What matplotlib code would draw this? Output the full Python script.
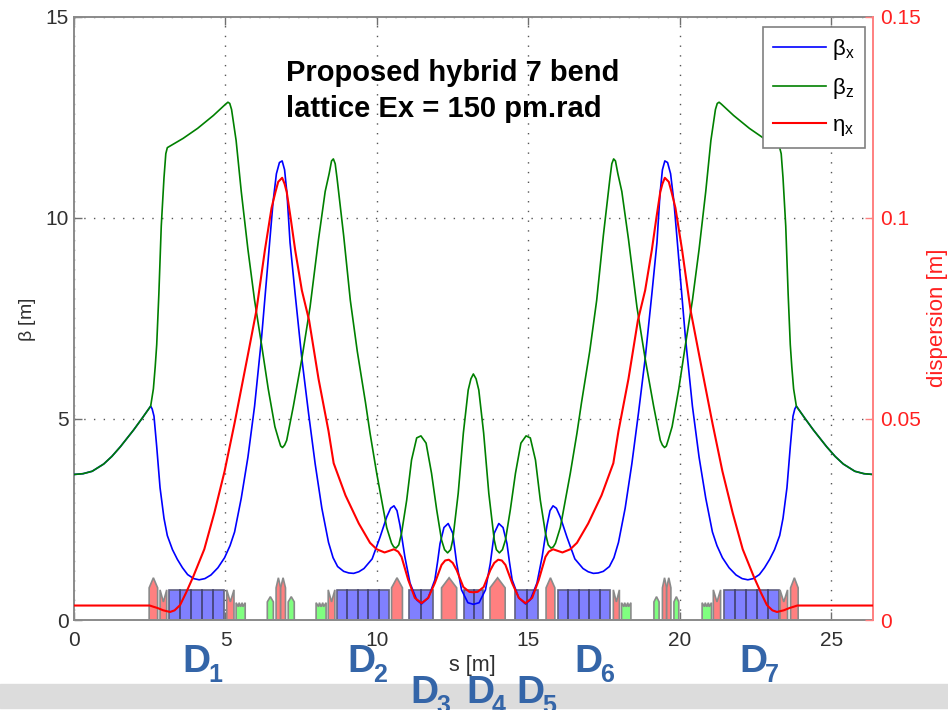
import matplotlib
matplotlib.use("Agg")
import matplotlib.pyplot as plt
from matplotlib.patches import Polygon, Rectangle

plt.rcParams['font.family'] = ['Liberation Sans', 'DejaVu Sans']
plt.rcParams['mathtext.fontset'] = 'custom'
plt.rcParams['mathtext.rm'] = 'Liberation Sans'
plt.rcParams['mathtext.it'] = 'Liberation Sans'

# beta x
s_bx = [0, 0.3, 0.6, 0.98, 1.25, 1.53, 1.97, 2.25, 2.53, 2.58, 2.64, 2.73, 2.84, 2.97, 3.08, 3.25, 3.41, 3.58, 3.75,
        3.95, 4.13, 4.32, 4.52, 4.75, 4.97, 5.15, 5.3, 5.52, 5.74, 5.96, 6.19, 6.41, 6.57, 6.68, 6.78, 6.87, 6.95, 7.03,
        7.13, 7.3, 7.52, 7.74, 7.96, 8.18, 8.4, 8.55, 8.7, 8.9, 9.07, 9.23, 9.4, 9.57, 9.84, 10.1, 10.32, 10.45, 10.56,
        10.66, 10.76, 10.92, 11.09, 11.31, 11.47, 11.69, 11.91, 12.0, 12.08, 12.21, 12.35, 12.5, 12.63, 12.79, 13.0, 13.18,
        13.37, 13.58, 13.74, 13.87, 14.02, 14.16, 14.29, 14.37, 14.46, 14.68, 14.9, 15.06, 15.28, 15.45, 15.61, 15.71,
        15.81, 15.92, 16.05, 16.27, 16.53, 16.8, 16.97, 17.14, 17.3, 17.47, 17.67, 17.82, 17.97, 18.19, 18.41, 18.63,
        18.85, 19.07, 19.24, 19.34, 19.42, 19.5, 19.59, 19.69, 19.8, 19.96, 20.18, 20.41, 20.63, 20.85, 21.07, 21.22,
        21.4, 21.62, 21.85, 22.05, 22.24, 22.42, 22.62, 22.79, 22.96, 23.12, 23.29, 23.4, 23.53, 23.64, 23.73, 23.79,
        23.84, 24.12, 24.4, 24.84, 25.12, 25.39, 25.77, 26.07, 26.37]
beta_x = [3.62, 3.64, 3.7, 3.88, 4.07, 4.31, 4.73, 5.02, 5.32, 5.25, 5.07, 4.31, 3.29, 2.53, 2.1, 1.75, 1.51, 1.3, 1.13,
          1.03, 1.0, 1.03, 1.12, 1.3, 1.55, 1.85, 2.19, 3.03, 4.05, 5.32, 7.02, 8.97, 10.4, 11.1, 11.38, 11.42, 11.2, 10.6,
          9.39, 8.1, 6.5, 5.15, 3.88, 2.78, 1.93, 1.55, 1.33, 1.21, 1.17, 1.16, 1.2, 1.28, 1.52, 2.06, 2.56, 2.78, 2.84,
          2.72, 2.35, 1.57, 0.92, 0.5, 0.4, 0.55, 1.0, 1.45, 1.9, 2.3, 2.4, 2.16, 1.41, 0.75, 0.43, 0.39,
          0.43, 0.75, 1.41, 2.16, 2.4, 2.3, 1.9, 1.45, 1.0, 0.55, 0.4, 0.5, 0.92, 1.57, 2.35, 2.72,
          2.84, 2.78, 2.56, 2.06, 1.52, 1.28, 1.2, 1.16, 1.17, 1.21, 1.33, 1.55, 1.93, 2.78, 3.88, 5.15,
          6.5, 8.1, 9.39, 10.6, 11.2, 11.42, 11.38, 11.1, 10.4, 8.97, 7.02, 5.32, 4.05, 3.03, 2.19, 1.85,
          1.55, 1.3, 1.12, 1.03, 1.0, 1.03, 1.13, 1.3, 1.51, 1.75, 2.1, 2.53, 3.29, 4.31, 5.07, 5.25,
          5.32, 5.02, 4.73, 4.31, 4.07, 3.88, 3.7, 3.64, 3.62]

# beta z
s_bz = [0, 0.3, 0.6, 0.98, 1.25, 1.53, 1.97, 2.25, 2.53, 2.62, 2.68, 2.73, 2.8, 2.88, 2.97, 3.03, 3.08, 3.6, 4.08, 4.6,
        5.0, 5.08, 5.14, 5.2, 5.35, 5.52, 5.74, 5.96, 6.19, 6.41, 6.63, 6.75, 6.82, 6.88, 6.95, 7.02, 7.24, 7.52, 7.79,
        8.07, 8.29, 8.42, 8.5, 8.56, 8.62, 8.68, 8.9, 9.12, 9.35, 9.62, 9.77, 9.99, 10.32, 10.48, 10.55, 10.63, 10.72,
        10.81, 10.98, 11.14, 11.31, 11.45, 11.62, 11.8, 11.97, 12.13, 12.23, 12.33, 12.43, 12.5, 12.68, 12.85, 13.01, 13.1,
        13.18, 13.27, 13.36, 13.52, 13.69, 13.87, 13.94, 14.04, 14.14, 14.24, 14.4, 14.57, 14.75, 14.92, 15.06, 15.23,
        15.39, 15.56, 15.65, 15.74, 15.82, 15.89, 16.05, 16.38, 16.6, 16.75, 17.02, 17.25, 17.47, 17.69, 17.75, 17.81,
        17.87, 17.95, 18.08, 18.3, 18.58, 18.85, 19.13, 19.35, 19.42, 19.49, 19.55, 19.62, 19.74, 19.96, 20.18, 20.41,
        20.63, 20.85, 21.02, 21.17, 21.23, 21.29, 21.37, 21.77, 22.29, 22.77, 23.29, 23.34, 23.4, 23.49, 23.57, 23.64,
        23.69, 23.75, 23.84, 24.12, 24.4, 24.84, 25.12, 25.39, 25.77, 26.07, 26.37]
beta_z = [3.62, 3.64, 3.7, 3.88, 4.07, 4.31, 4.73, 5.02, 5.32, 5.75, 6.3, 6.85, 8.1, 9.8, 11.0, 11.6, 11.75, 11.98, 12.23,
          12.55, 12.83, 12.88, 12.85, 12.7, 11.93, 10.66, 9.22, 7.95, 6.85, 5.75, 4.81, 4.5, 4.33, 4.29, 4.35, 4.47, 5.32,
          6.5, 7.78, 9.47, 10.66, 11.1, 11.42, 11.47, 11.35, 11.0, 9.56, 7.95, 6.68, 5.41, 4.65, 3.65, 2.3, 1.91, 1.82,
          1.79, 1.87, 2.16, 2.98, 3.98, 4.53, 4.58, 4.4, 3.65, 2.74, 1.99, 1.75, 1.67, 1.75, 1.99, 3.15, 4.65, 5.72, 6.0,
          6.12, 6.0, 5.72, 4.65, 3.15, 1.99, 1.75, 1.67, 1.75, 1.99, 2.74, 3.65, 4.4, 4.58, 4.53, 3.98,
          2.98, 2.16, 1.87, 1.79, 1.82, 1.91, 2.3, 3.65, 4.65, 5.41, 6.68, 7.95, 9.56, 11.0, 11.35, 11.47,
          11.42, 11.1, 10.66, 9.47, 7.78, 6.5, 5.32, 4.47, 4.35, 4.29, 4.33, 4.5, 4.81, 5.75, 6.85, 7.95,
          9.22, 10.66, 11.93, 12.7, 12.85, 12.88, 12.83, 12.55, 12.23, 11.98, 11.75, 11.6, 11.0, 9.8, 8.1, 6.85,
          6.3, 5.75, 5.32, 5.02, 4.73, 4.31, 4.07, 3.88, 3.7, 3.64, 3.62]

# dispersion
s_eta = [0, 2.5, 2.62, 2.75, 2.95, 3.17, 3.32, 3.5, 3.7, 3.93, 4.3, 4.63, 4.97, 5.3, 5.52, 5.74, 6.02, 6.3, 6.52, 6.65,
         6.74, 6.87, 6.95, 7.02, 7.15, 7.3, 7.52, 7.76, 8.07, 8.4, 8.57, 8.96, 9.4, 9.77, 9.99, 10.25, 10.56, 10.7, 10.81,
         11.03, 11.25, 11.47, 11.69, 11.91, 12.13, 12.25, 12.37, 12.5, 12.63, 12.85, 13.05, 13.18,
         13.32, 13.52, 13.74, 13.87, 14.0, 14.12, 14.24, 14.46, 14.68, 14.9, 15.12, 15.34, 15.56, 15.67, 15.81, 16.12,
         16.38, 16.6, 16.97, 17.41, 17.8, 17.97, 18.3, 18.61, 18.85, 19.07, 19.22, 19.35, 19.42, 19.5, 19.63, 19.72,
         19.85, 20.07, 20.35, 20.63, 20.85, 21.07, 21.4, 21.74, 22.07, 22.44, 22.67, 22.87, 23.05, 23.2, 23.42, 23.62,
         23.75, 23.87, 26.37]
eta_x = [0.0036, 0.0036, 0.0033, 0.003, 0.0024, 0.002, 0.0024, 0.0037, 0.0068, 0.0107, 0.0176, 0.0266, 0.037, 0.049,
         0.0575, 0.066, 0.077, 0.092, 0.1025, 0.1065, 0.109, 0.11, 0.1085, 0.1065, 0.1, 0.092, 0.082, 0.0745, 0.06, 0.047,
         0.039, 0.031, 0.024, 0.0192, 0.0176, 0.0168, 0.0176, 0.017, 0.0157, 0.01, 0.0055, 0.0042, 0.0055, 0.0092, 0.0137,
         0.0148, 0.015, 0.0142, 0.0124, 0.0082, 0.007, 0.0069,
         0.007, 0.0082, 0.0124, 0.0142, 0.015, 0.0148, 0.0137, 0.0092, 0.0055, 0.0042, 0.0055, 0.01, 0.0157, 0.017, 0.0176,
         0.0168, 0.0176, 0.0192, 0.024, 0.031, 0.039, 0.047, 0.06, 0.0745, 0.082, 0.092, 0.1, 0.1065, 0.1085, 0.11, 0.109,
         0.1065, 0.1025, 0.092, 0.077, 0.066, 0.0575, 0.049, 0.037, 0.0266, 0.0176, 0.0107, 0.0068, 0.0037, 0.0024, 0.002,
         0.0024, 0.003, 0.0033, 0.0036, 0.0036]

# magnets, start and end in s
dipole_start = [3.15, 8.67, 11.06, 12.87, 14.55, 15.96, 21.44]
dipole_end = [4.95, 10.4, 11.86, 13.51, 15.32, 17.69, 23.28]
dipole_slices = [5, 5, 2, 2, 2, 5, 5]
quad_start = [2.48, 6.67, 6.82, 10.48, 12.13, 13.73, 15.58, 19.42, 19.56, 23.65]
quad_end = [2.76, 6.82, 6.98, 10.84, 12.63, 14.23, 15.87, 19.56, 19.7, 23.9]
notch_start = [2.84, 5.04, 8.39, 17.8, 21.1, 23.3]
notch_end = [3.06, 5.28, 8.61, 18.0, 21.34, 23.55]
sext_start = [5.35, 7.99, 18.07, 20.73]
sext_end = [5.65, 8.32, 18.38, 21.04]
octu_start = [6.38, 7.07, 19.14, 19.8]
octu_end = [6.58, 7.27, 19.31, 19.96]

xticks = [0, 5, 10, 15, 20, 25]
yticks = [0, 5, 10, 15]
eta_ticks = [0, 0.05, 0.1, 0.15]
eta_labels = ['0', '0.05', '0.1', '0.15']

dlabels = ['1', '2', '3', '4', '5', '6', '7']
dlabel_x = [182, 347, 410, 466, 516, 574, 739]
dlabel_y = [672, 672, 703, 703, 703, 672, 672]

W = 948.0
H = 710.0
GRAY = '#707070'
DBLUE = '#3465a8'

fig = plt.figure(figsize=(9.48, 7.1), dpi=100)
fig.patches.append(Rectangle((0, 1 - 708 / H), 1, 24.5 / H, transform=fig.transFigure, color='#dcdcdc', zorder=0))

ax = fig.add_axes([74 / W, 1 - 620 / H, 799 / W, 603 / H])
ax.set_xlim(0, 26.37)
ax.set_ylim(0, 15)


def magnet(xs, ys, color):
    ax.add_patch(Polygon(list(zip(xs, ys)), closed=True, fc=color, ec='#8a8a8a', lw=1.2, zorder=2))


for a, b, n in zip(dipole_start, dipole_end, dipole_slices):
    ax.add_patch(Rectangle((a, 0), b - a, 0.75, fc='#8080ff', ec='#606080', lw=1.2, zorder=2))
    for k in range(1, n):
        x = a + (b - a) * k / n
        ax.plot([x, x], [0, 0.75], color='#404070', lw=1.2, zorder=2.1)
for a, b in zip(quad_start, quad_end):
    m = (a + b) / 2
    magnet([a, a, m, b, b], [0, 0.8, 1.05, 0.8, 0], '#ff8080')
for a, b in zip(notch_start, notch_end):
    m = (a + b) / 2
    magnet([a, a, m, b, b], [0, 0.75, 0.45, 0.75, 0], '#ff8080')
for a, b in zip(sext_start, sext_end):
    d = (b - a) / 6
    magnet([a, a, a + 1.5 * d, a + 2 * d, a + 3 * d, a + 4 * d, a + 4.5 * d, b, b],
           [0, 0.43, 0.33, 0.43, 0.33, 0.43, 0.33, 0.43, 0], '#80ff80')
for a, b in zip(octu_start, octu_end):
    m = (a + b) / 2
    magnet([a, a, m, b, b], [0, 0.45, 0.58, 0.45, 0], '#80ff80')

l1, = ax.plot(s_bx, beta_x, color='#0000ff', lw=1.2, zorder=3)
l2, = ax.plot(s_bz, beta_z, color='#008000', lw=1.2, zorder=3)

ax.set_xticks(xticks)
ax.set_yticks(yticks)
ax.grid(True, color='#555555', linestyle=(0, (1, 6)), lw=1)
ax.set_axisbelow(True)
ax.tick_params(axis='both', direction='in', length=6, width=1, color=GRAY, labelsize=15, labelcolor='#303030', pad=4)
ax.tick_params(axis='x', top=True, pad=8)
for sp in ax.spines.values():
    sp.set_color('#8a8a8a')
    sp.set_linewidth(1.4)
ax.spines['right'].set_visible(False)

ax2 = ax.twinx()
ax2.set_ylim(0, 0.15)
ax2.set_yticks(eta_ticks)
ax2.set_yticklabels(eta_labels)
l3, = ax2.plot(s_eta, eta_x, color='#ff0000', lw=1.5, zorder=4)
ax2.tick_params(axis='y', direction='in', length=6, width=1, color='#ff8080', labelsize=15, labelcolor='#ff2020', pad=5)
for name, sp in ax2.spines.items():
    sp.set_visible(name == 'right')
ax2.spines['right'].set_color('#ff8080')
ax2.spines['right'].set_linewidth(1.4)

leg = ax2.legend([l1, l2, l3], [r'$\mathrm{\beta_x}$', r'$\mathrm{\beta_z}$', r'$\mathrm{\eta_x}$'],
                 loc='upper right', bbox_to_anchor=(865 / W, 1 - 27 / H), bbox_transform=fig.transFigure,
                 fontsize=16, frameon=True, fancybox=False, framealpha=1, edgecolor='#808080',
                 handlelength=2.4, handletextpad=0.27, labelspacing=0.62, borderpad=0.45, borderaxespad=0)
leg.get_frame().set_linewidth(1.2)

fig.text(27 / W, 1 - 320 / H, r'$\mathrm{\beta}$ [m]', rotation=90, ha='center', va='center', fontsize=14, color='#303030')
fig.text(938 / W, 1 - 318 / H, 'dispersion [m]', rotation=90, ha='center', va='center', fontsize=16, color='#ff2020')
fig.text(472 / W, 1 - 665 / H, 's [m]', ha='center', va='center', fontsize=15.5, color='#303030')

fig.text(286 / W, 1 - 81 / H, 'Proposed hybrid 7 bend', fontsize=21, fontweight='bold', color='black')
fig.text(286 / W, 1 - 117 / H, 'lattice Ex = 150 pm.rad', fontsize=21, fontweight='bold', color='black')

for lab, x, y in zip(dlabels, dlabel_x, dlabel_y):
    fig.text(x / W, 1 - y / H, 'D', fontsize=28, fontweight='bold', color=DBLUE)
    fig.text((x + 26) / W, 1 - (y + 10) / H, lab, fontsize=18, fontweight='bold', color=DBLUE)

fig.savefig('out.png', dpi=100)
